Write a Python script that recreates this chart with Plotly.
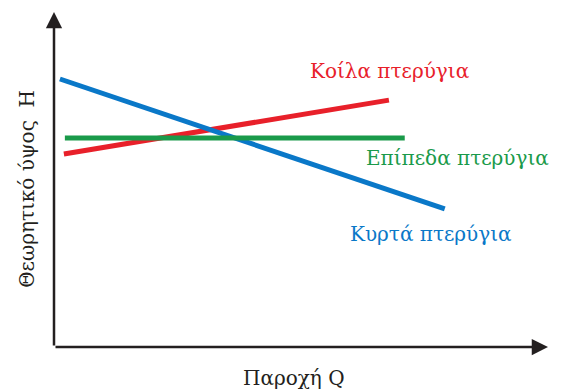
import plotly.graph_objects as go

# data in arbitrary units (Q on x, H on y)
q_koila = [0.2, 6.78]
h_koila = [5.76, 7.37]
q_kyrta = [0.12, 7.91]
h_kyrta = [8.0, 4.12]
q_epipeda = [0.22, 7.1]
h_epipeda = [6.24, 6.24]

red = "#e8202a"
green = "#1a9a4a"
blue = "#0a78c8"
black = "#231f20"
font = "'DejaVu Serif', serif"

fig = go.Figure()
fig.add_trace(go.Scatter(x=q_koila, y=h_koila, mode="lines",
                         line=dict(color=red, width=5)))
fig.add_trace(go.Scatter(x=q_kyrta, y=h_kyrta, mode="lines",
                         line=dict(color=blue, width=5)))
fig.add_trace(go.Scatter(x=q_epipeda, y=h_epipeda, mode="lines",
                         line=dict(color=green, width=5)))

labels = [
    ("Κοίλα πτερύγια", 6.80, 8.24, red),
    ("Επίπεδα πτερύγια", 8.16, 5.64, green),
    ("Κυρτά πτερύγια", 7.63, 3.37, blue),
]
for txt, x, y, c in labels:
    fig.add_annotation(x=x, y=y, text=txt, showarrow=False,
                       xanchor="center", yanchor="middle",
                       font=dict(family=font, size=20, color=c))

# axis arrows
fig.add_annotation(x=10, y=0, ax=0, ay=0, xref="x", yref="y", axref="x", ayref="y",
                   text="", showarrow=True, arrowhead=2, arrowsize=1.3,
                   arrowwidth=2.5, arrowcolor=black)
fig.add_annotation(x=0, y=10, ax=0, ay=0, xref="x", yref="y", axref="x", ayref="y",
                   text="", showarrow=True, arrowhead=2, arrowsize=1.3,
                   arrowwidth=2.5, arrowcolor=black)

fig.add_annotation(x=-0.0547, y=0.472, xref="paper", yref="paper",
                   xanchor="center", yanchor="middle",
                   text="Θεωρητικό ύψος  Η", textangle=-90, showarrow=False,
                   font=dict(family=font, size=20, color=black))
fig.add_annotation(x=0.486, y=-0.0925, xref="paper", yref="paper",
                   xanchor="center", yanchor="middle",
                   text="Παροχή Q", showarrow=False,
                   font=dict(family=font, size=20, color=black))

fig.update_xaxes(range=[0, 10], showgrid=False, zeroline=False, showticklabels=False,
                 ticks="", showline=False)
fig.update_yaxes(range=[0, 10], showgrid=False, zeroline=False, showticklabels=False,
                 ticks="", showline=False)
fig.update_layout(width=565, height=391, showlegend=False,
                  margin=dict(l=54, r=17, t=12, b=44),
                  plot_bgcolor="white", paper_bgcolor="white")

fig.write_html("out.html", config={"displayModeBar": False},
               post_script="document.body.style.margin='0';")
